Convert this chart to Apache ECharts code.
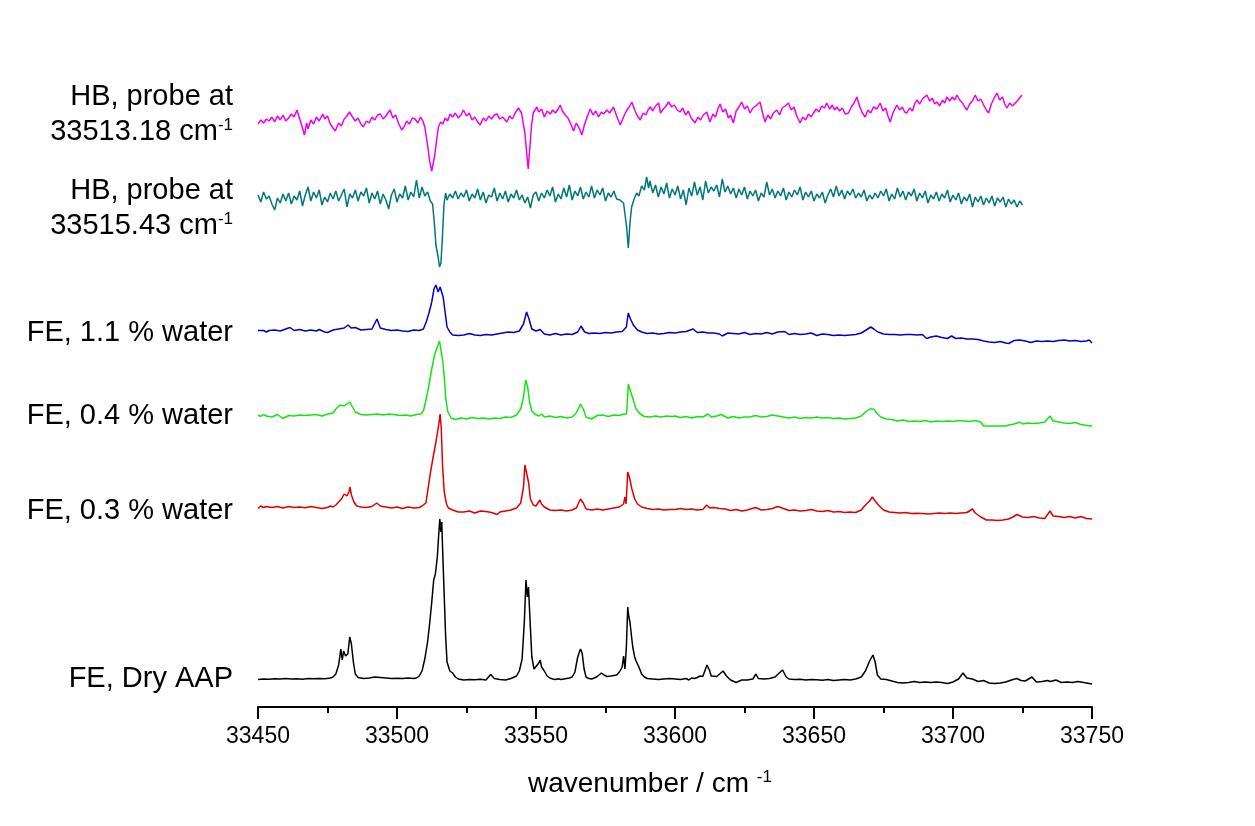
<!DOCTYPE html>
<html>
<head>
<meta charset="utf-8">
<script src="https://cdn.jsdelivr.net/npm/echarts@6/dist/echarts.min.js"></script>
<style>html,body{margin:0;padding:0;background:#fff}#c{width:1255px;height:826px}</style>
</head>
<body>
<div id="c"></div>
<script>
// x: wavenumber / cm-1 ; y: stacked display intensity (arbitrary units, traces offset)
var xTicks = [33450, 33500, 33550, 33600, 33650, 33700, 33750];
var seriesNames = ['HB, probe at 33513.18 cm-1', 'HB, probe at 33515.43 cm-1', 'FE, 1.1 % water', 'FE, 0.4 % water', 'FE, 0.3 % water', 'FE, Dry AAP'];

var hb1318 = [[33450,583],[33451,587],[33452,584],[33453,588],[33454,586],[33455,590],[33456,585],[33457,591],[33458,587],[33459,592],[33460,586],[33461,589],[33462,593],[33463,590],[33464,597],[33465,588],[33466,579],[33466.7,572],[33467.5,584],[33468,578],[33469,587],[33470,583],[33471,590],[33472,586],[33473.3,593],[33474,588],[33475,591],[33476,583],[33477,579],[33477.8,576],[33479,584],[33480,581],[33481,588],[33482,591],[33482.9,595],[33484,590],[33485,586],[33486,589],[33487,583],[33487.9,580],[33489,586],[33490,584],[33491,590],[33492,587],[33493,592],[33494,593],[33495,588],[33496,591],[33497.5,597],[33498.5,589],[33499.5,592],[33500.5,584],[33501.7,577],[33502.5,580],[33503.5,586],[33504.5,583],[33505.5,589],[33506.5,588],[33507.5,584],[33508.5,590],[33509.3,586],[33510,580],[33511,562],[33511.8,545],[33512.5,536],[33513,535],[33513.6,552],[33514.3,568],[33514.9,580],[33515.7,585],[33516.5,583],[33517.3,589],[33518.2,586],[33519.1,593],[33520,590],[33521,594],[33522,589],[33523,592],[33523.9,597],[33525,591],[33526,594],[33527,587],[33528,590],[33529,585],[33529.9,582],[33531,589],[33532,586],[33533,591],[33534,588],[33535,592],[33535.9,593],[33537,588],[33538,590],[33539.5,585],[33540.5,591],[33541.5,588],[33542.5,594],[33543.7,599],[33544.8,594],[33545.5,582],[33546,574],[33546.6,556],[33547.2,538],[33547.8,560],[33548.4,582],[33549,594],[33549.7,592],[33550.3,600],[33551,595],[33552,598],[33553,590],[33554,596],[33555.1,593],[33556,597],[33557,594],[33558,598],[33558.7,602],[33559.5,596],[33560.5,592],[33561.5,589],[33562.5,583],[33563.5,576],[33564.5,584],[33565.5,579],[33566.5,572],[33567.5,583],[33568.5,591],[33569.5,598],[33570.5,592],[33571.5,596],[33572.5,590],[33573.5,595],[33574.3,593],[33575.5,597],[33576.5,594],[33577.9,600],[33579,591],[33580.3,582],[33581.5,590],[33582.5,596],[33583.5,600],[33584.5,605],[33585.5,597],[33586.5,591],[33587.5,587],[33588.5,594],[33589.5,592],[33590.3,597],[33591.1,600],[33592,596],[33593,601],[33594.1,604],[33594.8,594],[33595.8,598],[33596.8,601],[33597.7,605],[33598.8,600],[33599.8,602],[33600.8,597],[33601.8,595],[33602.8,599],[33603.8,592],[33604.8,596],[33605.8,589],[33607.2,584],[33608.2,590],[33609.2,587],[33610.2,592],[33611.4,595],[33612.6,585],[33613.6,593],[33614.6,590],[33615.4,598],[33616.2,603],[33617.2,595],[33618.2,598],[33619.2,589],[33620,592],[33621,584],[33622,596],[33623,600],[33624,605],[33625,598],[33626,601],[33627,594],[33628,599],[33629,601],[33630.6,605],[33631.5,594],[33632.4,585],[33633.4,592],[33634.4,588],[33635.4,594],[33636.6,597],[33637.6,592],[33638.6,599],[33639.6,601],[33640.8,604],[33641.8,597],[33642.8,600],[33643.8,591],[33645,584],[33646,590],[33647,587],[33648,593],[33649,590],[33649.8,594],[33650.8,598],[33651.8,595],[33652.8,601],[33653.8,599],[33654.6,604],[33655.6,598],[33656.6,602],[33657.4,597],[33658.2,600],[33659.2,596],[33660.2,599],[33661.2,593],[33662.4,594],[33663.4,600],[33664.4,604],[33665.4,610],[33666.4,601],[33667.4,594],[33668.4,590],[33669.4,597],[33670.4,594],[33671.4,600],[33672.6,598],[33673.8,604],[33674.8,596],[33675.8,599],[33676.6,591],[33677.4,585],[33678.4,594],[33679.8,602],[33680.8,597],[33681.8,600],[33682.6,595],[33683.4,594],[33684.4,599],[33685.4,596],[33686.2,603],[33687,607],[33688,603],[33689,608],[33690.6,612],[33691.6,606],[33692.6,609],[33693.4,603],[33694.2,605],[33695.2,601],[33696.2,607],[33697,604],[33697.8,610],[33698.8,606],[33699.8,610],[33700.6,607],[33701.4,612],[33702.4,607],[33703.4,604],[33704.2,600],[33705,597],[33706,603],[33707,606],[33708,612],[33709,606],[33710,608],[33711,602],[33712,597],[33712.8,594],[33713.8,603],[33714.8,609],[33715.8,614],[33716.8,607],[33717.8,610],[33718.6,603],[33719.4,599],[33720.4,604],[33721.4,601],[33722.4,604],[33723.4,607],[33724,605],[33724.8,612]];

var hb1543 = [[33450,512],[33451,505],[33452,515],[33453,508],[33454,511],[33455,503],[33456,497],[33457,509],[33458,504],[33459,513],[33460,506],[33461,514],[33462,503],[33463,511],[33464,507],[33465,516],[33466,501],[33467,512],[33468,520],[33469,506],[33470,515],[33471,509],[33472,517],[33473,502],[33474,510],[33475,505],[33476,514],[33477,508],[33478,516],[33479,506],[33480,512],[33481,518],[33482,500],[33483,513],[33484,509],[33485,517],[33486,506],[33487,515],[33488,511],[33489,519],[33490,504],[33491,514],[33492,508],[33493,516],[33494,503],[33495,513],[33496,507],[33497,498],[33498,512],[33499,518],[33500,505],[33501,513],[33502,509],[33503,521],[33504,507],[33505,515],[33506,510],[33507,527],[33508,509],[33509,520],[33510,511],[33511,515],[33512,506],[33512.8,503],[33513.5,482],[33514,462],[33514.8,450],[33515.3,440],[33515.8,444],[33516.3,468],[33516.9,503],[33517.5,514],[33518,507],[33519,513],[33520,509],[33521,516],[33522,508],[33523,514],[33524,510],[33525,517],[33526,506],[33527,513],[33528,509],[33529,518],[33530,507],[33531,515],[33532,504],[33533,512],[33534,510],[33535,519],[33536,506],[33537,514],[33538,508],[33539,516],[33540,505],[33541,513],[33542,509],[33543,517],[33544,507],[33545,512],[33546,504],[33547,510],[33548,499],[33549,512],[33550,515],[33551,506],[33552,514],[33553,509],[33554,517],[33555,511],[33556,520],[33557,505],[33558,513],[33559,508],[33560,519],[33561,510],[33562,522],[33563,507],[33564,516],[33565,511],[33566,520],[33567,508],[33568,515],[33569,510],[33570,521],[33571,509],[33572,517],[33573,512],[33574,519],[33575,506],[33576,514],[33577,510],[33578,516],[33579,508],[33580.2,507],[33581.5,504],[33582.6,480],[33583.2,459],[33583.8,484],[33584.4,500],[33585.3,508],[33586.2,514],[33587,511],[33588,521],[33589,517],[33589.8,530],[33590.5,519],[33591,526],[33592,514],[33593,522],[33594,510],[33595,520],[33596,513],[33597,524],[33598,509],[33599,518],[33600,512],[33601,521],[33602,508],[33603,517],[33604,502],[33605,519],[33606,511],[33607,525],[33608,512],[33609,520],[33610,507],[33611,526],[33612,514],[33613,520],[33614,516],[33615,522],[33616,510],[33617,528],[33618,515],[33619,521],[33620,513],[33621,519],[33622,509],[33623,518],[33624,512],[33625,520],[33626,508],[33627,516],[33628,511],[33629,517],[33630,506],[33631,514],[33632,510],[33633,525],[33634,512],[33635,518],[33636,509],[33637,516],[33638,511],[33639,519],[33640,507],[33641,515],[33642,510],[33643,517],[33644,512],[33645,520],[33646,507],[33647,515],[33648,510],[33649,516],[33650,506],[33651,513],[33652,509],[33653,515],[33654,504],[33655,512],[33656,518],[33657,510],[33658,521],[33659,511],[33660,517],[33661,508],[33662,516],[33663,512],[33664,518],[33665,509],[33666,514],[33667,510],[33668,517],[33669,506],[33670,512],[33671,508],[33672,514],[33673,509],[33674,516],[33675,511],[33676,518],[33677,506],[33678,513],[33679,508],[33680,519],[33681,510],[33682,516],[33683,507],[33684,515],[33685,511],[33686,518],[33687,506],[33688,514],[33689,509],[33690,516],[33691,504],[33692,512],[33693,508],[33694,515],[33695,506],[33696,513],[33697,509],[33698,517],[33699,505],[33700,512],[33701,507],[33702,514],[33703,503],[33704,510],[33705,506],[33706,513],[33707,500],[33708,510],[33709,505],[33710,511],[33711,502],[33712,509],[33713,504],[33714,511],[33715,501],[33716,509],[33717,505],[33718,510],[33719,500],[33720,508],[33721,503],[33722,507],[33723,500],[33724,506],[33725,502]];

var fe11 = [[33450,376.5],[33452,376.5],[33453,375],[33454,376.5],[33456,377],[33458,376],[33460,378],[33461.5,379.5],[33463,376.5],[33465,377.5],[33467,376],[33469,377],[33471,376],[33472,377.5],[33474,375],[33475,374.5],[33477,377],[33479,378],[33481,379],[33482.4,382],[33483.5,379],[33485,379.5],[33487,377],[33489,377.5],[33491,378],[33492.8,388],[33494,379],[33496,377.5],[33498,376.5],[33500,377],[33502,376],[33504,375.5],[33506,377],[33508,376.5],[33509.5,378],[33510.5,385],[33511.5,394],[33512.5,405],[33513.3,418],[33514,422],[33514.8,415],[33515.5,420],[33516,421],[33516.6,410],[33517.3,395],[33518,380],[33519,375],[33520,372],[33522,371.5],[33524,372],[33526,373.5],[33528,372],[33530,371.5],[33532,372.5],[33534,372],[33536,373],[33538,374],[33540,375],[33542,374.5],[33544,376],[33545.5,383],[33546.6,395],[33547.5,388],[33548.5,378],[33550,376],[33551.5,377.5],[33553,373],[33555,372],[33557,373.5],[33559,372],[33561,373],[33563,372.5],[33565,375],[33566.2,381],[33567.5,375],[33569,373.5],[33571,374],[33573,373.5],[33575,374.5],[33577,374],[33579,375],[33581,375.5],[33582.5,380],[33583.2,394],[33584,388],[33585,382],[33586.5,377],[33588,375],[33590,373.5],[33592,374],[33594,373],[33596,373.5],[33598,374.5],[33600,374],[33602,375],[33604,375.5],[33606.5,378],[33608,374.5],[33610,375],[33612,374],[33614,374],[33616,373],[33617,371],[33619,374],[33621,373.5],[33623,373],[33625,374.5],[33627,372.5],[33629,373.5],[33631,373],[33633,374.5],[33635,373],[33637,375],[33639.5,375.5],[33641,372.5],[33643,373.5],[33645,372.5],[33647,373],[33649,374],[33651,371.5],[33653,373],[33655,372.5],[33657,371.5],[33659,372],[33661,371.5],[33663,372],[33665,372.5],[33667,374],[33668.5,376.5],[33670.4,380],[33671.5,378],[33673,375],[33675,373],[33677,372.5],[33679,372.5],[33681,372],[33683,372.5],[33685,372.5],[33687,372],[33689,372.5],[33690.5,368.5],[33692,370],[33694,371],[33696,369.5],[33698,368.5],[33699.5,371],[33701,368.5],[33703,369],[33705,368],[33707,368],[33709,367.5],[33711,366],[33713,365],[33715,364.5],[33717,365.5],[33719,364],[33720,363.5],[33722,366.5],[33724,367],[33726,366],[33728,364.5],[33730,366],[33732,365.5],[33734,366],[33736,365.5],[33738,366.5],[33740,367],[33742,366],[33744,366.5],[33746,365.5],[33748,366],[33749,367],[33750,364]];

var fe04 = [[33450,292],[33451,290.5],[33452,292.5],[33453,291],[33455,290],[33457,292.5],[33459,288.5],[33461,291.5],[33463,291],[33465,292],[33467,291.5],[33469,292],[33471,292.5],[33473,291],[33475,293],[33477,294],[33478,298],[33479.5,302],[33481,301],[33482,303],[33483,305],[33484,300],[33485,295],[33487,292.5],[33489,292],[33491,292.5],[33493,293],[33495,292],[33497,293],[33499,292.5],[33501,291.5],[33503,292],[33505,291],[33507,292.5],[33508.5,293],[33509.5,296],[33510.5,308],[33511.5,322],[33512.5,338],[33513.5,352],[33514.5,360],[33515.3,366],[33515.8,364],[33516.5,345],[33517,330],[33517.5,310],[33518.2,296],[33519.5,289],[33521,287.5],[33523,289],[33525,288],[33527,289.5],[33529,288.5],[33531,289],[33533,288],[33535,289],[33537,288.5],[33539,290],[33541,289.5],[33543,292],[33544.5,298],[33545.5,310],[33546.3,327],[33547,320],[33547.7,305],[33548.5,296],[33549.5,293],[33551,291],[33552,293],[33553,290],[33555,291],[33557,289.5],[33559,290.5],[33561,289],[33563,290],[33564.5,294],[33566,303],[33567,298],[33568,290],[33570,288],[33572,291.5],[33574,292],[33576,290.5],[33578,292],[33580,291.5],[33581.5,293],[33582.2,295],[33582.6,293],[33583.2,323],[33584,316],[33585,307],[33586,298],[33587.5,293],[33589,290.5],[33591,290],[33593,291],[33595,290],[33597,291],[33599,290.5],[33600,291],[33602,289.5],[33604,290.5],[33606,289],[33608,290.5],[33610,290],[33611.9,293],[33613,290],[33615,291],[33616.6,292.5],[33619,289],[33621,290.5],[33623,289],[33625,290],[33627,290],[33629,291.5],[33631,290],[33633,290.5],[33635,292],[33637,291],[33639,290],[33641,289],[33643,290],[33645,288.5],[33647,289.5],[33649,289],[33651,290],[33653,289],[33655,289.5],[33657,288.5],[33659,289],[33661,288],[33663,288.5],[33665,289],[33667,291],[33668.5,295],[33670,298],[33671.5,298],[33672.5,294],[33674,290],[33676,288],[33678,287.5],[33680,286],[33682,287],[33684,285.5],[33686,286],[33688,285.5],[33690,286.5],[33692,285],[33694,286],[33696,285.5],[33698,286],[33700,285.5],[33702,286.5],[33704,286],[33706,285.5],[33708,286.5],[33710,285],[33711,281],[33713,281],[33716,281],[33719,281],[33720,282],[33722,283],[33724,285],[33725,283],[33727,284],[33729,283.5],[33731,284],[33733,285],[33734.9,291],[33736,286],[33738,285],[33740,284],[33742,283.5],[33744,284.5],[33746,282.5],[33748,281.5],[33750,281]];

var fe03 = [[33450,198.5],[33451,201],[33452,199.5],[33453,200.5],[33455,199.5],[33457,200.5],[33459,199],[33461,200.5],[33463,199.5],[33465,200],[33467,199.2],[33469,200.5],[33471,199.5],[33473,198.5],[33475,199.5],[33476,201],[33477,200],[33478,202],[33479,205],[33480,208],[33481,213],[33482,211],[33482.7,215],[33483.1,220],[33483.6,212],[33484.5,205],[33485.5,201],[33487,200],[33489,199.5],[33491,200.5],[33492.7,204],[33494,201],[33496,200],[33498,199],[33500,200],[33502,198.5],[33504,200],[33506,199],[33508,199.5],[33509,201],[33510.4,204],[33511,215],[33512,234],[33513,250],[33514,265],[33515,282],[33515.5,293],[33515.9,280],[33516.4,240],[33517,215],[33517.8,203],[33518.5,199],[33520,197],[33522,195],[33524,195],[33526,196],[33528,194],[33530,196],[33532,195.5],[33534,194.5],[33536,192.5],[33537,195],[33539,196],[33541,197],[33543,199],[33544.5,204],[33545.5,220],[33546,242],[33546.7,240],[33547.3,225],[33548,208],[33549,202],[33550,201],[33551.4,207],[33552,203],[33553,200],[33555,197],[33557,196.5],[33559,197],[33561,196],[33563,197],[33564.5,199],[33566,208],[33567,204],[33568,198],[33570,197],[33572,198],[33574,197],[33576,198],[33578,199],[33580,200],[33581.5,203],[33582,210],[33582.4,203],[33583,235],[33583.6,230],[33584.5,218],[33585.5,208],[33586.5,203],[33588,200],[33590,198.5],[33592,197.5],[33594,198],[33596,197],[33598,197.5],[33600,197.5],[33602,198.5],[33604,197.5],[33606,198],[33608,197],[33610,197.5],[33611.4,202],[33612.5,199],[33614,199.5],[33616,198.5],[33618,198],[33620,196.5],[33622,197.5],[33624,196],[33626,197],[33629,199.5],[33631,197],[33633,197.5],[33635,198.5],[33637,200.5],[33639,198.5],[33641,196.5],[33643,197],[33645,196],[33647,196.5],[33649,197.5],[33651,196],[33653,195.5],[33655,196.5],[33657,195],[33659,195.5],[33661,194.5],[33663,195],[33665,194.5],[33667,197],[33668.5,202],[33670,206],[33671,210],[33672,206],[33673.5,201],[33675,197],[33677,195],[33679,194.5],[33681,194],[33683,194.5],[33685,193.5],[33687,193.8],[33689,193.5],[33691,193],[33693,193.5],[33695,194],[33697,193.5],[33699,194],[33701,193.5],[33703,194],[33705,194.5],[33707,198],[33708,194],[33710,190],[33712,187],[33714,187],[33716,186.5],[33718,187],[33720,188],[33721.5,190],[33723,192.5],[33725,190],[33727,189.5],[33729,190.5],[33731,189],[33733,188.5],[33734.9,196],[33736,191],[33738,190.5],[33740,189.5],[33742,190.5],[33744,189],[33746,190.5],[33748,188.5],[33750,188]];

var feDry = [[33450,27.5],[33452,28],[33454,27.8],[33456,28.3],[33458,28],[33460,28.5],[33462,28],[33464,28.3],[33466,27.8],[33468,28.4],[33470,28.2],[33472,28.5],[33474,28.3],[33476,29],[33477,30],[33478,33],[33479,42],[33479.8,58],[33480.3,47],[33480.8,56],[33481.5,51],[33482.3,53],[33483,70],[33483.6,63],[33484.3,45],[33485,33],[33486,29.5],[33488,28.5],[33490,29],[33492,30],[33494,29.5],[33496,29],[33498,28.5],[33500,28.7],[33502,28.5],[33504,29],[33506,28.6],[33507,29],[33508,31],[33509,36],[33510,48],[33511,65],[33511.8,85],[33512.5,105],[33513.2,127],[33513.8,133],[33514.5,150],[33515,172],[33515.4,188],[33515.8,175],[33516.1,185],[33516.5,150],[33517,110],[33517.5,70],[33518,45],[33519,36],[33520,34],[33521,30],[33522,28],[33524,27],[33526,27.5],[33528,27.2],[33530,27.8],[33532,27],[33533.7,32.5],[33535,28.5],[33537,27.5],[33539,27],[33541,28.5],[33543,31],[33544,36],[33545,48],[33545.8,85],[33546.4,127],[33546.9,110],[33547.3,120],[33547.8,90],[33548.5,50],[33549.3,38],[33550,36],[33551,44],[33551.5,47],[33552,40],[33552.5,42],[33553,36],[33554,31],[33555,29],[33556,28],[33557,27.5],[33558,28.3],[33559,27.5],[33560,28],[33561,28.5],[33562,29],[33563,30],[33564,35],[33565,50],[33566,58],[33566.6,54],[33567.3,38],[33568,30],[33569,28.5],[33570,28],[33571,29],[33572,30.5],[33573.5,34],[33574.5,32],[33575.5,30.5],[33577,31],[33579,32],[33580,35],[33581,40],[33581.5,51],[33582,38],[33582.5,60],[33583,100],[33583.4,90],[33583.8,85],[33584.3,72],[33584.8,60],[33585.5,50],[33586,46],[33587,40],[33588,33],[33589,30],[33590,28.5],[33592,28],[33594,27.5],[33596,28],[33598,28.5],[33600,28],[33602,27.5],[33604,28.5],[33605,27],[33606,29],[33607,28.5],[33608,29.5],[33609,31],[33610,30.5],[33611.5,42],[33612.5,36],[33613,31],[33615,30.5],[33617.3,36],[33618.5,31],[33620,27],[33622,24.5],[33624,27],[33626,27],[33628,28],[33629.1,33],[33630,28.5],[33632,28],[33634,28.5],[33636,30],[33637.5,34],[33638.7,37],[33640,30],[33641,28],[33643,27.5],[33645,27.8],[33647,27],[33649,27.5],[33651,27.2],[33653,26.8],[33655,27.5],[33657,26.5],[33659,27],[33661,27.5],[33663,27],[33665,28],[33667,30],[33668.5,36],[33670,46],[33671.2,52],[33672,45],[33672.8,32],[33674,28],[33676,27.5],[33678,26],[33680,24.5],[33682,24],[33684,24.5],[33686,25.5],[33688,24.5],[33690,25],[33692,24.5],[33694,25],[33696,24.5],[33698,23.5],[33700,25],[33702,28],[33703.6,34],[33705,29],[33707,28],[33709,25.5],[33711,26.5],[33713,24],[33715,23.5],[33717,24],[33719,25],[33721,27],[33722.9,28.5],[33724.5,26.5],[33726,26],[33728.4,30],[33730,25],[33732,25.5],[33734,26.5],[33735,25.5],[33737,27],[33739,24.5],[33741,25],[33743,24.5],[33745,25.5],[33747,24.5],[33749,23.5],[33750,23]];

var FONT = '"Liberation Sans", Arial, sans-serif';
var colors = ['#ee00ee', '#007878', '#0000c8', '#12e612', '#e00000', '#000000'];
var dataSets = [hb1318, hb1543, fe11, fe04, fe03, feDry];

var chart = echarts.init(document.getElementById('c'), null, {renderer: 'canvas'});
var series = dataSets.map(function (d, i) {
  return {
    name: seriesNames[i], type: 'line', data: d, showSymbol: false, symbol: 'none',
    lineStyle: {color: colors[i], width: 1.5}, itemStyle: {color: colors[i]},
    animation: false, silent: true, z: 2
  };
});

var richStyles = {
  n: {fontSize: 29, fontFamily: FONT, fill: '#000', lineHeight: 31},
  s: {fontSize: 17, fontFamily: FONT, fill: '#000', verticalAlign: 'top', lineHeight: 31}
};

function lbl(x, y, txt) {
  return {type: 'text', x: x, y: y, style: {
    text: txt, align: 'right', verticalAlign: 'middle', fill: '#000',
    font: '29px ' + FONT, rich: richStyles
  }};
}

chart.setOption({
  backgroundColor: '#fff',
  animation: false,
  grid: {left: 258, right: 163, top: 40, bottom: 119, containLabel: false},
  xAxis: {
    type: 'value', min: 33450, max: 33750, interval: 50,
    axisLine: {show: true, lineStyle: {color: '#000', width: 2}},
    axisTick: {show: true, length: 12, lineStyle: {color: '#000', width: 2}},
    minorTick: {show: true, splitNumber: 2, length: 6, lineStyle: {color: '#000', width: 2}},
    splitLine: {show: false},
    axisLabel: {margin: 18, fontSize: 23, fontFamily: FONT, color: '#000',
      formatter: function (v) { return String(v); }}
  },
  yAxis: {type: 'value', min: 0, max: 667, show: false, splitLine: {show: false}},
  series: series,
  graphic: [
    lbl(233, 97, '{n|HB, probe at}'),
    lbl(233, 132, '{n|33513.18 cm}{s|-1}'),
    lbl(233, 191, '{n|HB, probe at}'),
    lbl(233, 226, '{n|33515.43 cm}{s|-1}'),
    lbl(233, 333, '{n|FE, 1.1 % water}'),
    lbl(233, 416, '{n|FE, 0.4 % water}'),
    lbl(233, 511, '{n|FE, 0.3 % water}'),
    lbl(233, 679, '{n|FE, Dry AAP}'),
    {type: 'text', x: 528, y: 784, style: {
      text: '{n|wavenumber / cm }{s|-1}', align: 'left', verticalAlign: 'middle', fill: '#000',
      rich: {
        n: {fontSize: 28, fontFamily: FONT, fill: '#000', lineHeight: 30},
        s: {fontSize: 17, fontFamily: FONT, fill: '#000', verticalAlign: 'top', lineHeight: 30}
      }
    }}
  ]
});
</script>
</body>
</html>
